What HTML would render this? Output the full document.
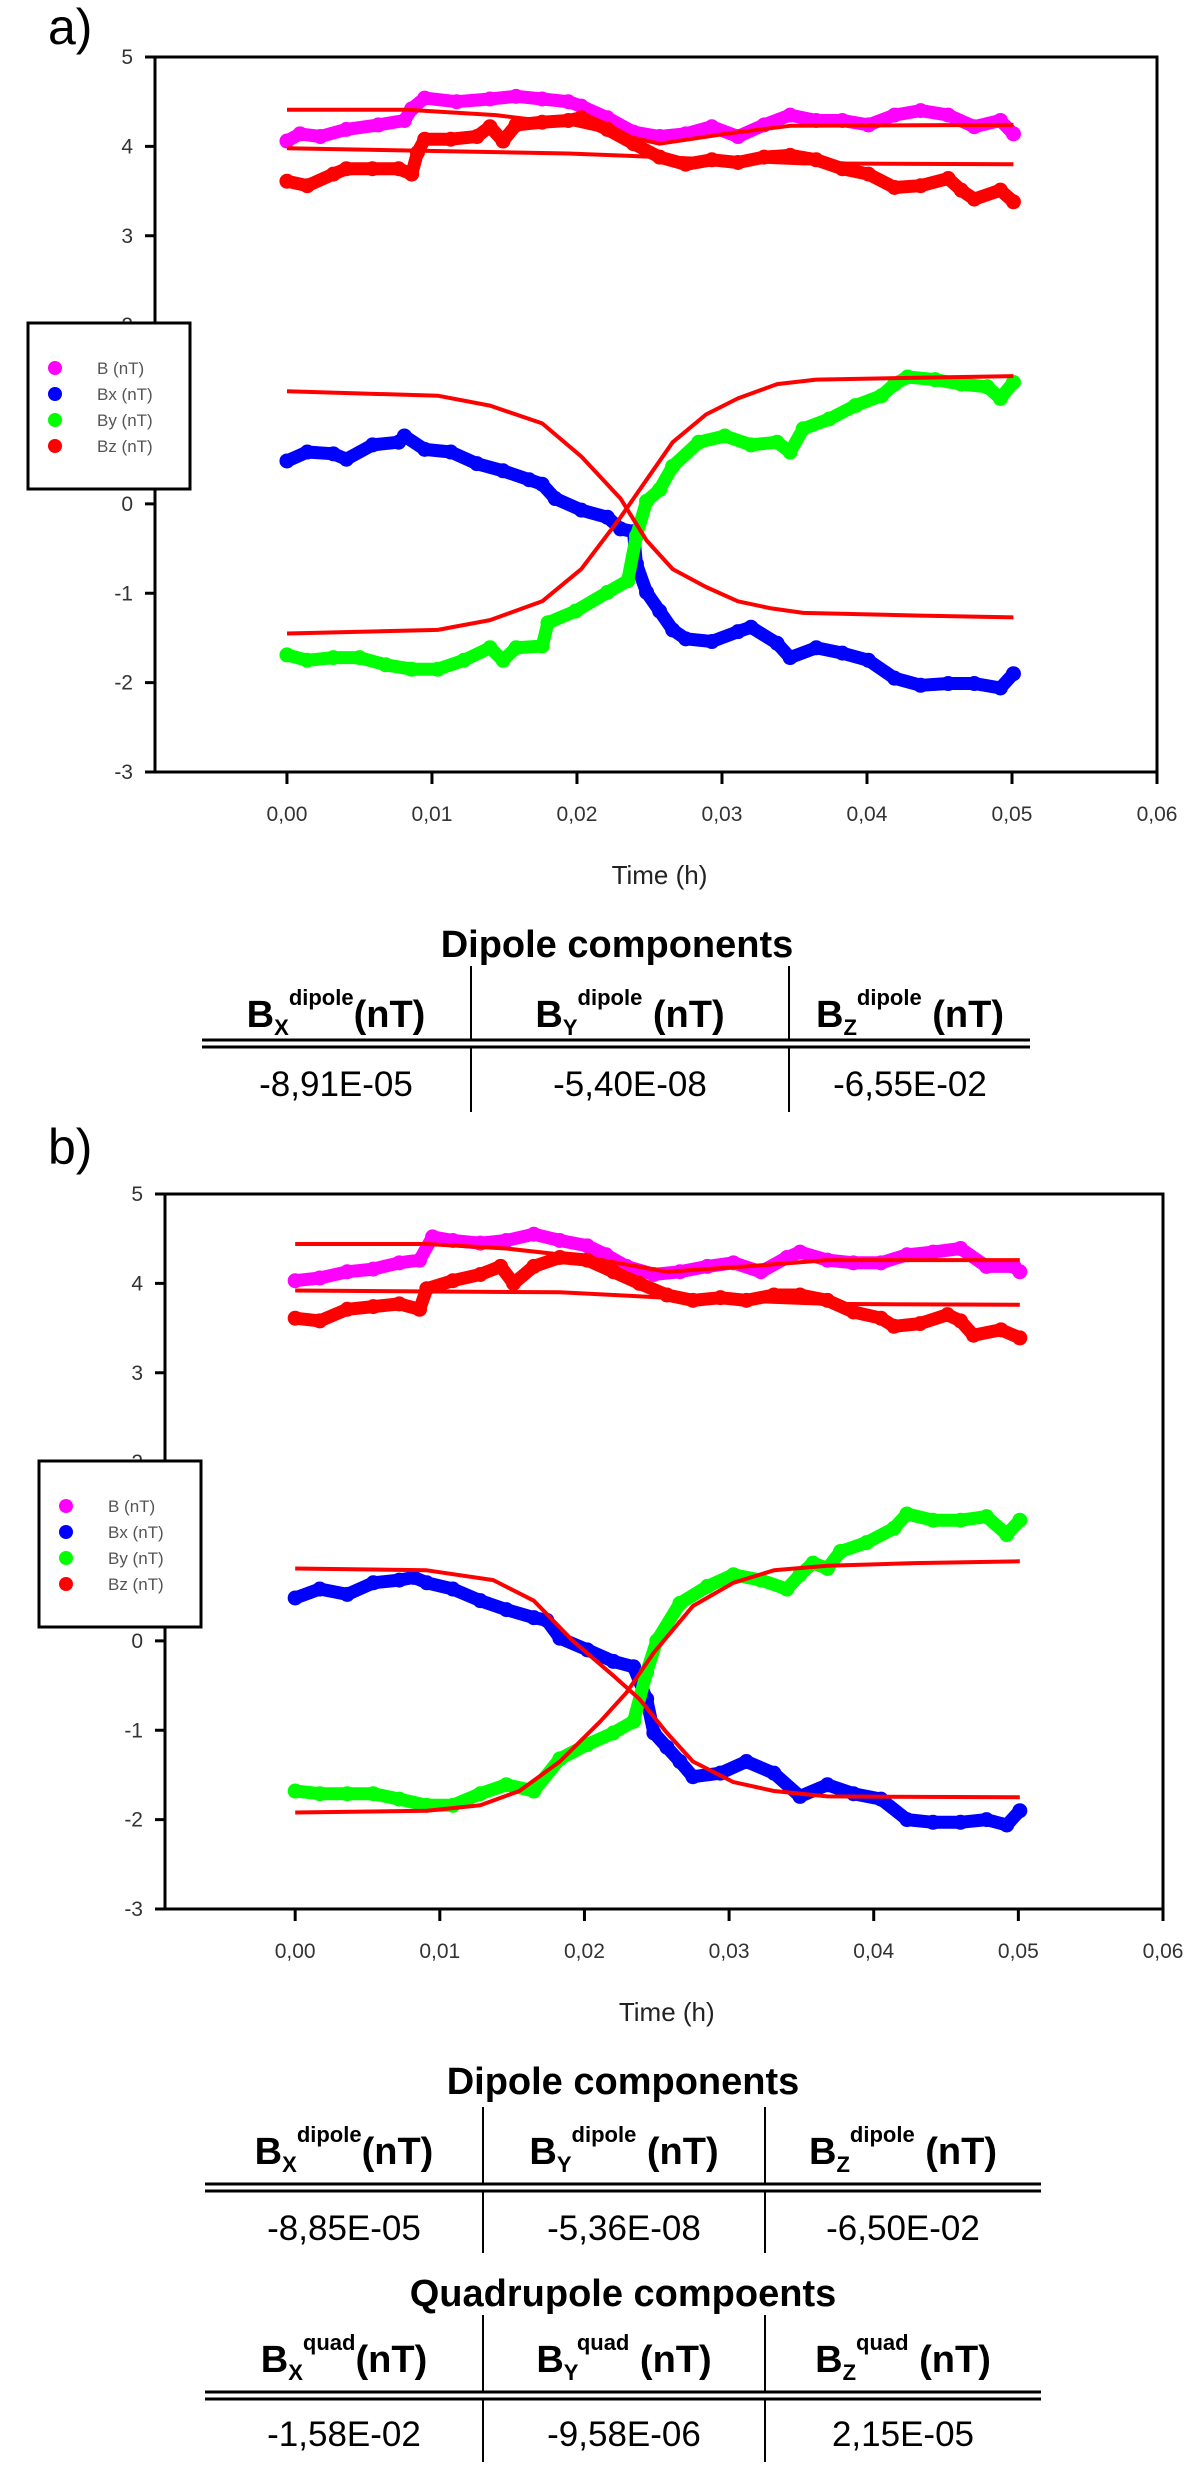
<!DOCTYPE html>
<html>
<head>
<meta charset="utf-8">
<style>
  html,body{margin:0;padding:0;background:#fff;}
  svg{display:block;}
  text{font-family:"Liberation Sans",Arial,sans-serif;}
</style>
</head>
<body>
<svg id="root" xmlns="http://www.w3.org/2000/svg" width="1200" height="2488" viewBox="0 0 1200 2488">
  <rect x="0" y="0" width="1200" height="2488" fill="#fff"/>
  <text x="48" y="44" font-size="50" fill="#000">a)</text>
  <text x="48" y="1164" font-size="50" fill="#000">b)</text>
  <g id="chartA"></g>
  <g id="chartB"></g>

  <!-- Table a -->
  <g font-family="Liberation Sans, Arial, sans-serif">
    <text x="617" y="957" text-anchor="middle" font-size="38" font-weight="bold">Dipole components</text>
    <line x1="471" y1="966" x2="471" y2="1040" stroke="#000" stroke-width="2"/>
    <line x1="789" y1="966" x2="789" y2="1040" stroke="#000" stroke-width="2"/>
    <line x1="471" y1="1047" x2="471" y2="1112" stroke="#000" stroke-width="2"/>
    <line x1="789" y1="1047" x2="789" y2="1112" stroke="#000" stroke-width="2"/>
    <line x1="202" y1="1040" x2="1030" y2="1040" stroke="#000" stroke-width="3"/>
    <line x1="202" y1="1047" x2="1030" y2="1047" stroke="#000" stroke-width="3"/>
    <text x="336" y="1027" text-anchor="middle" font-size="38" font-weight="bold">B<tspan font-size="22" dy="8">X</tspan><tspan font-size="22" dy="-30">dipole</tspan><tspan dy="22">(nT)</tspan></text>
    <text x="630" y="1027" text-anchor="middle" font-size="38" font-weight="bold">B<tspan font-size="22" dy="8">Y</tspan><tspan font-size="22" dy="-30">dipole</tspan><tspan dy="22"> (nT)</tspan></text>
    <text x="910" y="1027" text-anchor="middle" font-size="38" font-weight="bold">B<tspan font-size="22" dy="8">Z</tspan><tspan font-size="22" dy="-30">dipole</tspan><tspan dy="22"> (nT)</tspan></text>
    <text x="336" y="1096" text-anchor="middle" font-size="35">-8,91E-05</text>
    <text x="630" y="1096" text-anchor="middle" font-size="35">-5,40E-08</text>
    <text x="910" y="1096" text-anchor="middle" font-size="35">-6,55E-02</text>
  </g>

  <!-- Table b dipole -->
  <g>
    <text x="623" y="2094" text-anchor="middle" font-size="38" font-weight="bold">Dipole components</text>
    <line x1="483" y1="2107" x2="483" y2="2184" stroke="#000" stroke-width="2"/>
    <line x1="765" y1="2107" x2="765" y2="2184" stroke="#000" stroke-width="2"/>
    <line x1="483" y1="2191" x2="483" y2="2253" stroke="#000" stroke-width="2"/>
    <line x1="765" y1="2191" x2="765" y2="2253" stroke="#000" stroke-width="2"/>
    <line x1="205" y1="2184" x2="1041" y2="2184" stroke="#000" stroke-width="3"/>
    <line x1="205" y1="2191" x2="1041" y2="2191" stroke="#000" stroke-width="3"/>
    <text x="344" y="2164" text-anchor="middle" font-size="38" font-weight="bold">B<tspan font-size="22" dy="8">X</tspan><tspan font-size="22" dy="-30">dipole</tspan><tspan dy="22">(nT)</tspan></text>
    <text x="624" y="2164" text-anchor="middle" font-size="38" font-weight="bold">B<tspan font-size="22" dy="8">Y</tspan><tspan font-size="22" dy="-30">dipole</tspan><tspan dy="22"> (nT)</tspan></text>
    <text x="903" y="2164" text-anchor="middle" font-size="38" font-weight="bold">B<tspan font-size="22" dy="8">Z</tspan><tspan font-size="22" dy="-30">dipole</tspan><tspan dy="22"> (nT)</tspan></text>
    <text x="344" y="2240" text-anchor="middle" font-size="35">-8,85E-05</text>
    <text x="624" y="2240" text-anchor="middle" font-size="35">-5,36E-08</text>
    <text x="903" y="2240" text-anchor="middle" font-size="35">-6,50E-02</text>
  </g>

  <!-- Table b quadrupole -->
  <g>
    <text x="623" y="2306" text-anchor="middle" font-size="38" font-weight="bold">Quadrupole compoents</text>
    <line x1="483" y1="2315" x2="483" y2="2392" stroke="#000" stroke-width="2"/>
    <line x1="765" y1="2315" x2="765" y2="2392" stroke="#000" stroke-width="2"/>
    <line x1="483" y1="2399" x2="483" y2="2462" stroke="#000" stroke-width="2"/>
    <line x1="765" y1="2399" x2="765" y2="2462" stroke="#000" stroke-width="2"/>
    <line x1="205" y1="2392" x2="1041" y2="2392" stroke="#000" stroke-width="3"/>
    <line x1="205" y1="2399" x2="1041" y2="2399" stroke="#000" stroke-width="3"/>
    <text x="344" y="2372" text-anchor="middle" font-size="38" font-weight="bold">B<tspan font-size="22" dy="8">X</tspan><tspan font-size="22" dy="-30">quad</tspan><tspan dy="22">(nT)</tspan></text>
    <text x="624" y="2372" text-anchor="middle" font-size="38" font-weight="bold">B<tspan font-size="22" dy="8">Y</tspan><tspan font-size="22" dy="-30">quad</tspan><tspan dy="22"> (nT)</tspan></text>
    <text x="903" y="2372" text-anchor="middle" font-size="38" font-weight="bold">B<tspan font-size="22" dy="8">Z</tspan><tspan font-size="22" dy="-30">quad</tspan><tspan dy="22"> (nT)</tspan></text>
    <text x="344" y="2446" text-anchor="middle" font-size="35">-1,58E-02</text>
    <text x="624" y="2446" text-anchor="middle" font-size="35">-9,58E-06</text>
    <text x="903" y="2446" text-anchor="middle" font-size="35">2,15E-05</text>
  </g>
</svg>

<script>
// ===== shared axis data =====
const xTicks = [0, 0.01, 0.02, 0.03, 0.04, 0.05, 0.06];
const xTickLabels = ["0,00", "0,01", "0,02", "0,03", "0,04", "0,05", "0,06"];
const yTicks = [-3, -2, -1, 0, 1, 2, 3, 4, 5];
const yTickLabels = ["-3", "-2", "-1", "0", "1", "2", "3", "4", "5"];
const legendLabels = ["B (nT)", "Bx (nT)", "By (nT)", "Bz (nT)"];

// ===== panel a data =====
const tB_a = [0,0.0009,0.0023,0.0041,0.0063,0.0081,0.0086,0.0095,0.0117,0.0140,0.0158,0.0176,0.0194,0.0203,0.0221,0.0239,0.0257,0.0275,0.0293,0.0311,0.0329,0.0347,0.0365,0.0383,0.0401,0.0419,0.0437,0.0456,0.0474,0.0492,0.0501];
const vB_a = [4.06,4.14,4.11,4.19,4.24,4.29,4.42,4.54,4.50,4.53,4.56,4.53,4.50,4.45,4.32,4.16,4.11,4.14,4.22,4.11,4.24,4.35,4.29,4.29,4.24,4.35,4.40,4.35,4.22,4.29,4.14];
const tBz_a = [0,0.0014,0.0032,0.0041,0.0059,0.0077,0.0086,0.0090,0.0095,0.0113,0.0131,0.0140,0.0149,0.0158,0.0176,0.0194,0.0203,0.0221,0.0239,0.0257,0.0275,0.0293,0.0311,0.0329,0.0347,0.0365,0.0383,0.0401,0.0419,0.0437,0.0456,0.0465,0.0474,0.0492,0.0501];
const vBz_a = [3.61,3.56,3.69,3.75,3.75,3.75,3.69,3.93,4.08,4.08,4.11,4.22,4.06,4.24,4.27,4.29,4.32,4.19,4.03,3.88,3.80,3.85,3.82,3.88,3.90,3.85,3.75,3.69,3.54,3.56,3.64,3.51,3.41,3.51,3.38];
const tBx_a = [0,0.0014,0.0032,0.0041,0.0059,0.0077,0.0081,0.0095,0.0113,0.0131,0.0149,0.0167,0.0176,0.0185,0.0203,0.0221,0.0230,0.0239,0.0241,0.0248,0.0257,0.0266,0.0275,0.0293,0.0311,0.0320,0.0338,0.0347,0.0365,0.0383,0.0401,0.0419,0.0437,0.0456,0.0474,0.0492,0.0501];
const vBx_a = [0.48,0.58,0.56,0.50,0.66,0.69,0.76,0.61,0.58,0.45,0.37,0.27,0.22,0.06,-0.07,-0.15,-0.28,-0.31,-0.67,-0.99,-1.20,-1.41,-1.51,-1.54,-1.43,-1.38,-1.56,-1.72,-1.61,-1.67,-1.75,-1.95,-2.03,-2.01,-2.01,-2.06,-1.90];
const tBy_a = [0,0.0014,0.0032,0.0050,0.0068,0.0086,0.0104,0.0122,0.0140,0.0149,0.0158,0.0176,0.0180,0.0199,0.0221,0.0235,0.0241,0.0248,0.0257,0.0266,0.0284,0.0302,0.0320,0.0338,0.0347,0.0356,0.0374,0.0392,0.0410,0.0419,0.0428,0.0447,0.0465,0.0483,0.0492,0.0501];
const vBy_a = [-1.69,-1.75,-1.72,-1.72,-1.80,-1.85,-1.85,-1.75,-1.61,-1.75,-1.61,-1.59,-1.33,-1.20,-0.99,-0.86,-0.36,0.03,0.16,0.42,0.69,0.76,0.66,0.69,0.58,0.84,0.95,1.10,1.21,1.34,1.42,1.39,1.34,1.31,1.18,1.36];
// fitted curves a
const tFitBx_a = [0,0.0104,0.0140,0.0176,0.0203,0.0230,0.0248,0.0266,0.0289,0.0311,0.0334,0.0356,0.0437,0.0501];
const vFitBx_a = [1.26,1.21,1.10,0.90,0.53,0.06,-0.41,-0.73,-0.93,-1.09,-1.17,-1.22,-1.25,-1.27];
const tFitBy_a = [0,0.0104,0.0140,0.0176,0.0203,0.0230,0.0248,0.0266,0.0289,0.0311,0.0338,0.0365,0.0501];
const vFitBy_a = [-1.45,-1.41,-1.30,-1.09,-0.73,-0.15,0.27,0.69,1.00,1.18,1.34,1.39,1.43];
const tFitB_a = [0,0.0083,0.0144,0.0199,0.0257,0.0302,0.0347,0.0501];
const vFitB_a = [4.41,4.41,4.35,4.24,4.03,4.14,4.23,4.24];
const tFitBz_a = [0,0.0194,0.0257,0.0356,0.0501];
const vFitBz_a = [3.98,3.92,3.88,3.81,3.80];

// ===== panel b data =====
const tB_b = [0,0.0017,0.0036,0.0054,0.0072,0.0086,0.0095,0.0109,0.0128,0.0146,0.0165,0.0183,0.0202,0.0215,0.0229,0.0248,0.0266,0.0285,0.0303,0.0322,0.0340,0.0349,0.0368,0.0386,0.0405,0.0423,0.0441,0.0460,0.0478,0.0497,0.0501];
const vB_b = [4.03,4.06,4.13,4.16,4.23,4.26,4.52,4.48,4.45,4.48,4.55,4.48,4.42,4.32,4.19,4.10,4.13,4.19,4.23,4.13,4.29,4.35,4.26,4.23,4.23,4.32,4.35,4.39,4.19,4.19,4.13];
const tBz_b = [0,0.0017,0.0036,0.0054,0.0072,0.0086,0.0091,0.0109,0.0128,0.0142,0.0151,0.0165,0.0183,0.0202,0.0220,0.0238,0.0257,0.0275,0.0294,0.0312,0.0331,0.0349,0.0368,0.0386,0.0405,0.0414,0.0432,0.0451,0.0460,0.0469,0.0488,0.0501];
const vBz_b = [3.61,3.58,3.71,3.74,3.77,3.71,3.94,4.03,4.10,4.19,4.00,4.19,4.29,4.26,4.13,4.00,3.87,3.81,3.84,3.81,3.87,3.87,3.81,3.68,3.61,3.52,3.55,3.65,3.58,3.42,3.48,3.39];
const tBx_b = [0,0.0017,0.0036,0.0054,0.0072,0.0082,0.0091,0.0109,0.0128,0.0146,0.0165,0.0174,0.0183,0.0202,0.0220,0.0234,0.0243,0.0248,0.0257,0.0266,0.0275,0.0294,0.0312,0.0331,0.0349,0.0368,0.0386,0.0405,0.0423,0.0441,0.0460,0.0478,0.0492,0.0501];
const vBx_b = [0.48,0.58,0.52,0.65,0.68,0.71,0.65,0.58,0.45,0.35,0.26,0.23,0.03,-0.10,-0.23,-0.29,-0.65,-1.03,-1.19,-1.35,-1.52,-1.48,-1.35,-1.48,-1.74,-1.61,-1.71,-1.77,-2.00,-2.03,-2.03,-2.00,-2.06,-1.90];
const tBy_b = [0,0.0017,0.0036,0.0054,0.0072,0.0091,0.0109,0.0128,0.0146,0.0165,0.0183,0.0202,0.0220,0.0234,0.0243,0.0250,0.0266,0.0285,0.0303,0.0322,0.0340,0.0349,0.0358,0.0368,0.0377,0.0395,0.0414,0.0423,0.0441,0.0460,0.0478,0.0492,0.0501];
const vBy_b = [-1.68,-1.71,-1.71,-1.71,-1.77,-1.84,-1.84,-1.71,-1.61,-1.68,-1.32,-1.16,-1.03,-0.90,-0.35,0.00,0.42,0.61,0.74,0.68,0.58,0.74,0.87,0.81,1.00,1.10,1.26,1.42,1.35,1.35,1.39,1.19,1.35];
const tFitBx_b = [0,0.0091,0.0137,0.0165,0.0192,0.0220,0.0238,0.0257,0.0275,0.0303,0.0331,0.0368,0.0501];
const vFitBx_b = [0.81,0.79,0.68,0.45,0.00,-0.39,-0.65,-1.03,-1.35,-1.58,-1.68,-1.74,-1.75];
const tFitBy_b = [0,0.0091,0.0128,0.0155,0.0183,0.0211,0.0229,0.0248,0.0275,0.0303,0.0331,0.0368,0.0428,0.0501];
const vFitBy_b = [-1.92,-1.90,-1.84,-1.68,-1.35,-0.90,-0.58,-0.13,0.39,0.65,0.79,0.84,0.87,0.89];
const tFitB_b = [0,0.0091,0.0146,0.0202,0.0257,0.0312,0.0368,0.0501];
const vFitB_b = [4.44,4.44,4.39,4.29,4.13,4.19,4.26,4.26];
const tFitBz_b = [0,0.0183,0.0257,0.0368,0.0501];
const vFitBz_b = [3.92,3.90,3.84,3.77,3.76];

const NS = "http://www.w3.org/2000/svg";
function mk(tag, attrs, parent) {
  const e = document.createElementNS(NS, tag);
  for (const k in attrs) e.setAttribute(k, attrs[k]);
  if (parent) parent.appendChild(e);
  return e;
}

function drawChart(g, box, series, fits, legendBox, suffix) {
  const sx = t => box.left + (t - box.xmin) / (box.xmax - box.xmin) * (box.right - box.left);
  const sy = v => box.bottom - (v - box.ymin) / (box.ymax - box.ymin) * (box.bottom - box.top);

  // frame
  const frame = mk("rect", {x: box.left, y: box.top, width: box.right - box.left, height: box.bottom - box.top, fill: "none", stroke: "#000", "stroke-width": 3}, g);
  
  

  // y ticks
  yTicks.forEach((v, i) => {
    const y = sy(v);
    mk("line", {x1: box.left - 10, y1: y, x2: box.left, y2: y, stroke: "#000", "stroke-width": 3}, g);
    const t = mk("text", {x: box.left - 22, y: y + 7, "text-anchor": "end", "font-size": 21, fill: "#333"}, g);
    t.textContent = yTickLabels[i];
    
    
  });
  // x ticks
  xTicks.forEach((v, i) => {
    const x = sx(v);
    mk("line", {x1: x, y1: box.bottom, x2: x, y2: box.bottom + 12, stroke: "#000", "stroke-width": 3}, g);
    const t = mk("text", {x: x, y: box.bottom + 49, "text-anchor": "middle", "font-size": 21, fill: "#333"}, g);
    t.textContent = xTickLabels[i];
    
    
  });
  const xt = mk("text", {x: (sx(0.02) + sx(0.03)) / 2 + 10, y: box.bottom + 112, "text-anchor": "middle", "font-size": 26, fill: "#222"}, g);
  xt.textContent = "Time (h)";
  
  

  // data series
  series.forEach(s => {
    const sg = mk("g", {}, g);
    
    
    const pts = s.t.map((t, i) => sx(t).toFixed(1) + "," + sy(s.v[i]).toFixed(1)).join(" ");
    mk("polyline", {points: pts, fill: "none", stroke: s.color, "stroke-width": 13, "stroke-linejoin": "round", "stroke-linecap": "round"}, sg);
    s.t.forEach((t, i) => {
      const c = mk("circle", {cx: sx(t), cy: sy(s.v[i]), r: 7.5, fill: s.color}, sg);
      
      
    });
  });
  // fits
  fits.forEach(f => {
    const pts = f.t.map((t, i) => sx(t).toFixed(1) + "," + sy(f.v[i]).toFixed(1)).join(" ");
    const p = mk("polyline", {points: pts, fill: "none", stroke: "#ff0000", "stroke-width": 4, "stroke-linejoin": "round"}, g);
    
    
  });

  // legend
  const lg = mk("g", {}, g);
  
  
  mk("rect", {x: legendBox.x, y: legendBox.y, width: 162, height: 166, fill: "#fff", stroke: "#000", "stroke-width": 3}, lg);
  const colors = ["#ff00ff", "#0000ff", "#00ff00", "#ff0000"];
  legendLabels.forEach((lab, i) => {
    const y = legendBox.y + 45 + i * 26;
    const c = mk("circle", {cx: legendBox.x + 27, cy: y, r: 7, fill: colors[i]}, lg);
    
    
    const t = mk("text", {x: legendBox.x + 69, y: y + 6, "font-size": 17, fill: "#555"}, lg);
    t.textContent = lab;
    
    
  });
}

drawChart(document.getElementById("chartA"),
  {left: 155, right: 1157, top: 57, bottom: 772, xmin: -0.0091, xmax: 0.06, ymin: -3, ymax: 5},
  [{name: "b", t: tB_a, v: vB_a, color: "#ff00ff"},
   {name: "bz", t: tBz_a, v: vBz_a, color: "#ff0000"},
   {name: "bx", t: tBx_a, v: vBx_a, color: "#0000ff"},
   {name: "by", t: tBy_a, v: vBy_a, color: "#00ff00"}],
  [{name: "bx", t: tFitBx_a, v: vFitBx_a},
   {name: "by", t: tFitBy_a, v: vFitBy_a},
   {name: "b", t: tFitB_a, v: vFitB_a},
   {name: "bz", t: tFitBz_a, v: vFitBz_a}],
  {x: 28, y: 323}, "a");

drawChart(document.getElementById("chartB"),
  {left: 165, right: 1163, top: 1194, bottom: 1909, xmin: -0.009, xmax: 0.06, ymin: -3, ymax: 5},
  [{name: "b", t: tB_b, v: vB_b, color: "#ff00ff"},
   {name: "bz", t: tBz_b, v: vBz_b, color: "#ff0000"},
   {name: "bx", t: tBx_b, v: vBx_b, color: "#0000ff"},
   {name: "by", t: tBy_b, v: vBy_b, color: "#00ff00"}],
  [{name: "bx", t: tFitBx_b, v: vFitBx_b},
   {name: "by", t: tFitBy_b, v: vFitBy_b},
   {name: "b", t: tFitB_b, v: vFitB_b},
   {name: "bz", t: tFitBz_b, v: vFitBz_b}],
  {x: 39, y: 1461}, "b");
</script>
</body>
</html>
